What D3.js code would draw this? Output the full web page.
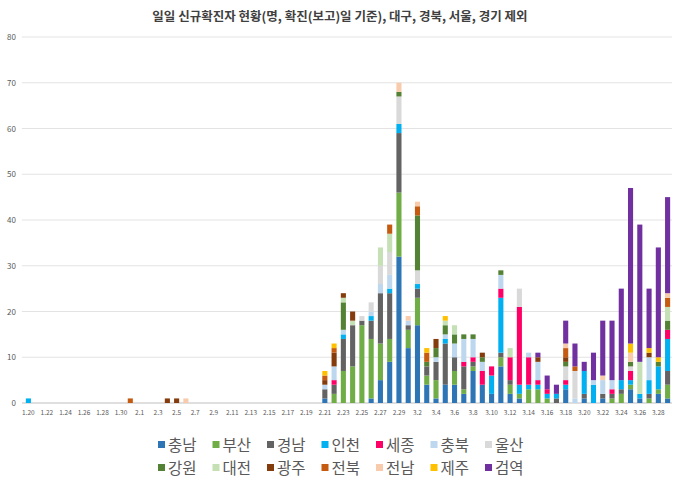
<!DOCTYPE html>
<html><head><meta charset="utf-8">
<script src="https://cdn.jsdelivr.net/npm/d3@7"></script>
<style>body{margin:0;background:#fff}svg{font-family:"Noto Sans CJK KR","Noto Sans",sans-serif}</style>
</head><body><svg id="c" width="680" height="486"></svg>
<script>
const series = ["충남","부산","경남","인천","세종","충북","울산","강원","대전","광주","전북","전남","제주","검역"];
const colors = ["#2E75B6","#70AD47","#636363","#00B0F0","#FF0066","#BDD7EE","#D9D9D9","#548235","#C5E0B4","#843C0C","#C55A11","#F8CBAD","#FFC000","#7030A0"];
// dates 1.20 .. 3.29
const dates = [];
{const md=[[1,20,31],[2,1,29],[3,1,29]];for(const [m,a,b] of md)for(let d=a;d<=b;d++)dates.push(m+"."+d);}
const tickLabels = dates.filter((d,i)=>i%2===0);
// per-day counts: [date, {series: value}]
const daily = {
 "1.20":{인천:1},"1.31":{전북:1},"2.4":{광주:1},"2.5":{광주:1},"2.6":{전남:1},
 "2.21":{충남:1,경남:2,충북:1,광주:1,전북:1,제주:1},
 "2.22":{부산:2,경남:2,세종:1,충북:3,광주:3,전북:1,제주:1},
 "2.23":{부산:7,경남:7,인천:1,충북:1,강원:6,대전:1,광주:1},
 "2.24":{부산:8,경남:9,대전:1,광주:2},
 "2.25":{부산:17,경남:1,울산:1},
 "2.26":{충남:1,부산:13,경남:4,인천:1,충북:1,울산:2},
 "2.27":{충남:5,부산:8,경남:11,충북:2,울산:4,대전:4},
 "2.28":{충남:9,부산:5,경남:10,인천:1,충북:3,울산:5,대전:4,전북:2},
 "2.29":{충남:32,부산:14,경남:13,인천:2,울산:6,강원:1,전남:2},
 "3.1":{충남:12,부산:4,경남:1,충북:1,전남:1},
 "3.2":{충남:17,부산:6,경남:2,인천:1,울산:3,강원:12,전북:2,전남:1},
 "3.3":{충남:4,부산:2,경남:2,강원:1,전북:2,제주:1},
 "3.4":{충남:1,부산:4,경남:4,충북:1,강원:2,광주:2},
 "3.5":{충남:4,경남:9,인천:1,충북:1,강원:2,대전:1,제주:1},
 "3.6":{충남:4,부산:3,경남:3,충북:3,강원:2,대전:2},
 "3.7":{충남:2,부산:1,경남:5,세종:1,충북:5,강원:1},
 "3.8":{충남:7,부산:1,경남:1,세종:1,충북:4,강원:1},
 "3.9":{충남:4,세종:3,충북:2,강원:1,광주:1},
 "3.10":{충남:2,인천:4,세종:2},
 "3.11":{충남:8,부산:2,경남:1,인천:12,세종:2,충북:3,강원:1},
 "3.12":{충남:2,부산:2,경남:1,세종:5,대전:2},
 "3.13":{충남:1,부산:1,인천:2,세종:17,울산:4},
 "3.14":{부산:3,인천:1,세종:6,충북:1},
 "3.15":{부산:3,인천:1,세종:1,충북:4,광주:1,검역:1},
 "3.16":{부산:1,인천:1,세종:1,검역:3},
 "3.17":{경남:1,인천:1,검역:2},
 "3.18":{충남:3,인천:1,세종:1,울산:3,강원:1,광주:1,전북:2,전남:1,검역:5},
 "3.19":{충북:1,울산:6,전북:1,검역:5},
 "3.20":{충남:1,경남:1,인천:5,검역:2},
 "3.21":{인천:4,충북:1,검역:6},
 "3.22":{충남:1,경남:1,충북:3,전남:1,검역:12},
 "3.23":{부산:1,경남:1,세종:1,충북:2,검역:13},
 "3.24":{부산:2,경남:1,인천:2,검역:20},
 "3.25":{충남:3,부산:1,인천:1,세종:2,울산:1,강원:1,전남:2,제주:2,검역:34},
 "3.26":{충남:1,인천:1,대전:7,검역:30},
 "3.27":{부산:1,경남:1,인천:3,충북:5,광주:1,제주:1,검역:13},
 "3.28":{충남:2,부산:1,인천:5,강원:1,제주:1,검역:24},
 "3.29":{충남:1,부산:3,경남:3,인천:7,세종:2,강원:2,대전:3,전북:2,전남:1,검역:21}
};
const yTicks = [0,10,20,30,40,50,60,70,80];

const svg = d3.select("#c");
const M = {l:22,r:8,t:37,b:83};
const W=680,H=486;
const x = d3.scaleBand().domain(dates).range([M.l+2,W-M.r]).paddingInner(0.45).paddingOuter(0.2);
const y = d3.scaleLinear().domain([0,80]).range([H-M.b,M.t]);

svg.append("text").attr("x",340).attr("y",21).attr("text-anchor","middle")
  .attr("font-size",12.5).attr("font-weight","bold").attr("fill","#404040")
  .text("일일 신규확진자 현황(명, 확진(보고)일 기준), 대구, 경북, 서울, 경기 제외");

svg.append("g").selectAll("line").data(yTicks).join("line")
  .attr("x1",M.l).attr("x2",W-M.r).attr("y1",d=>y(d)).attr("y2",d=>y(d))
  .attr("stroke",d=>d===0?"#bfbfbf":"#e3e3e3").attr("stroke-width",1);
svg.append("g").selectAll("text").data(yTicks).join("text")
  .attr("x",M.l-6).attr("y",d=>y(d)+3).attr("text-anchor","end")
  .attr("font-size",8).attr("fill","#595959").text(d=>d);

const table = dates.map(d=>{const o={date:d};series.forEach(s=>o[s]=(daily[d]&&daily[d][s])||0);return o;});
const stacked = d3.stack().keys(series)(table);
svg.append("g").selectAll("g").data(stacked).join("g").attr("fill",(d,i)=>colors[i])
  .selectAll("rect").data(d=>d.filter(p=>p[1]>p[0])).join("rect")
  .attr("x",p=>x(p.data.date)).attr("width",x.bandwidth())
  .attr("y",p=>y(p[1])).attr("height",p=>y(p[0])-y(p[1]));

svg.append("g").selectAll("text").data(tickLabels).join("text")
  .attr("x",d=>x(d)+x.bandwidth()/2).attr("y",H-M.b+12).attr("text-anchor","middle")
  .attr("font-size",6.5).attr("fill","#595959").text(d=>d);

const lg = svg.append("g");
series.forEach((s,i)=>{
  const r=Math.floor(i/7), c=i%7;
  const gx=158+c*54.5, gy=445+r*23;
  lg.append("rect").attr("x",gx).attr("y",gy-4).attr("width",7).attr("height",7).attr("fill",colors[i]);
  lg.append("text").attr("x",gx+10).attr("y",gy+6).attr("font-size",15.5).attr("fill","#595959").text(s);
});
</script></body></html>
